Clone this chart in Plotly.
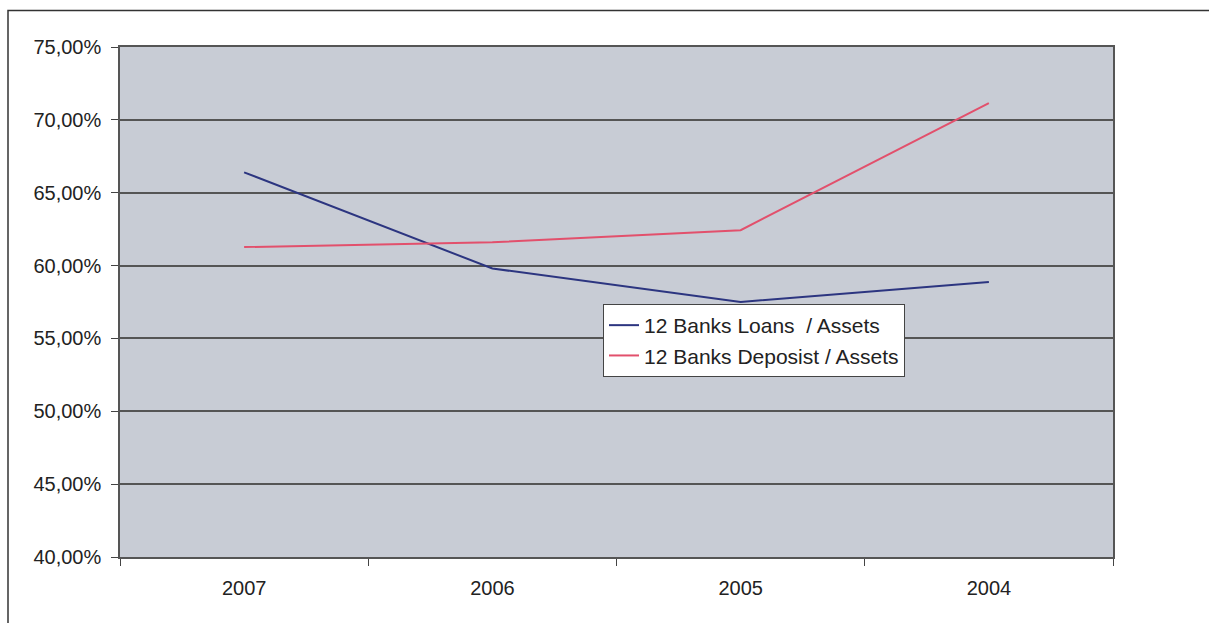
import plotly.graph_objects as go

years = ["2007", "2006", "2005", "2004"]
loans_to_assets = [0.6640, 0.5980, 0.5750, 0.5888]
deposits_to_assets = [0.6127, 0.6160, 0.6243, 0.7115]

W, H = 1209, 623
L, R, T, B = 120, 96, 47, 66
pw, ph = W - L - R, H - T - B

fig = go.Figure()
fig.add_trace(go.Scatter(
    x=years, y=loans_to_assets, mode="lines",
    name="12 Banks Loans  / Assets",
    line=dict(color="#2c3580", width=2),
))
fig.add_trace(go.Scatter(
    x=years, y=deposits_to_assets, mode="lines",
    name="12 Banks Deposist / Assets",
    line=dict(color="#e2506c", width=2),
))

def px_x(p):
    return (p - L) / pw

def px_y(p):
    return (H - B - p) / ph

fig.update_layout(
    width=W, height=H,
    margin=dict(l=L, r=R, t=T, b=B, pad=0),
    paper_bgcolor="white",
    plot_bgcolor="#c8ccd5",
    separators=",.",
    font=dict(family="Liberation Sans, Arial, sans-serif", size=20, color="#222"),
    showlegend=True,
    legend=dict(
        x=px_x(603), y=px_y(304), xanchor="left", yanchor="top",
        bgcolor="white", bordercolor="#444", borderwidth=1,
        font=dict(size=21, color="#222"),
        itemwidth=30, tracegroupgap=0,
    ),
    xaxis=dict(
        type="category", range=[-0.5, 3.5],
        tickson="boundaries", ticks="outside", ticklen=7, tickcolor="#444",
        showgrid=False, showline=True, linecolor="#555", linewidth=1.5, mirror=True,
        tickfont=dict(size=20), ticklabelstandoff=12,
    ),
    yaxis=dict(
        range=[0.40, 0.75], dtick=0.05, tickformat=".2%",
        ticks="outside", ticklen=7, tickcolor="#444",
        showgrid=True, gridcolor="#555", gridwidth=1.5,
        zeroline=False,
        showline=True, linecolor="#555", linewidth=1.5, mirror=True,
        tickfont=dict(size=20), ticklabelstandoff=6,
    ),
    shapes=[
        dict(
            type="path", xref="paper", yref="paper",
            path=f"M {px_x(8)} {px_y(640)} L {px_x(8)} {px_y(10.5)} L {px_x(1215)} {px_y(10.5)}",
            line=dict(color="#333", width=1.5),
        ),
    ],
)

fig.write_html("out.html")
